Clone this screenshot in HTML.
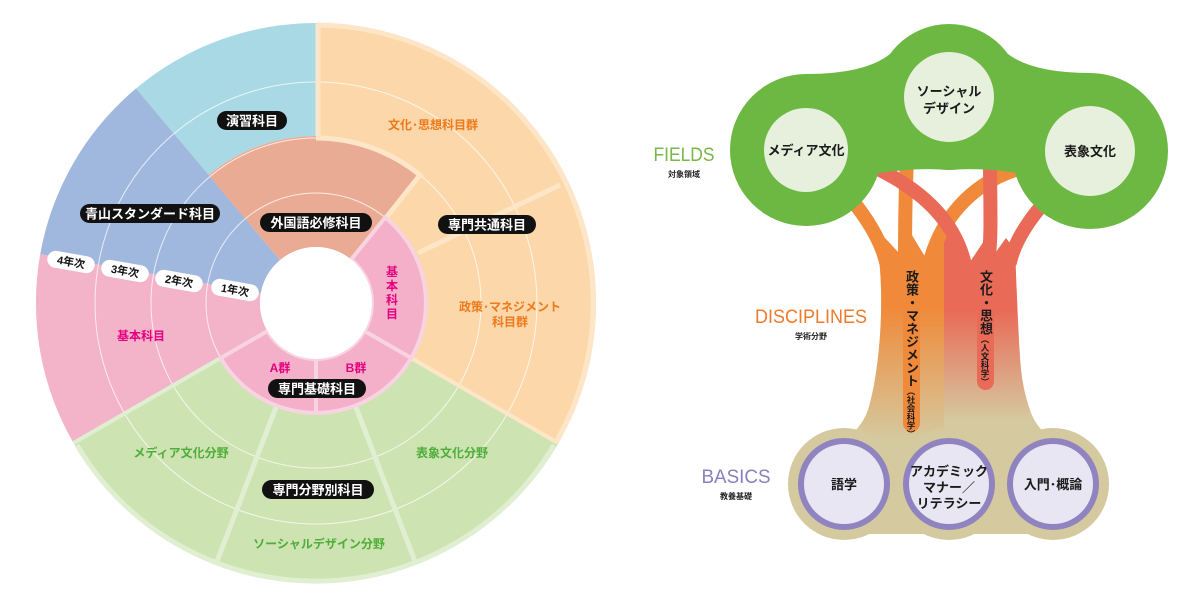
<!DOCTYPE html>
<html><head><meta charset="utf-8"><style>
html,body{margin:0;padding:0;background:#fff;}
body{width:1200px;height:595px;position:relative;overflow:hidden;font-family:"Liberation Sans","Noto Sans CJK JP",sans-serif;}
svg text{font-family:"Liberation Sans","Noto Sans CJK JP",sans-serif;}
.v{position:absolute;writing-mode:vertical-rl;text-orientation:upright;font-weight:bold;color:#1a1a1a;font-size:13px;line-height:16px;letter-spacing:0px;}
.v small{font-size:8.5px;}
</style></head><body>
<svg width="1200" height="595" viewBox="0 0 1200 595" xmlns="http://www.w3.org/2000/svg" style="position:absolute;left:0;top:0">
<defs>
<linearGradient id="go" gradientUnits="userSpaceOnUse" x1="0" y1="220" x2="0" y2="440">
<stop offset="0" stop-color="#f08a3a"/><stop offset="0.4" stop-color="#f08a3a"/><stop offset="1" stop-color="#f08a3a" stop-opacity="0"/></linearGradient>
<linearGradient id="gr" gradientUnits="userSpaceOnUse" x1="0" y1="220" x2="0" y2="420">
<stop offset="0" stop-color="#e96a57"/><stop offset="0.45" stop-color="#e96a57"/><stop offset="1" stop-color="#e96a57" stop-opacity="0"/></linearGradient>
<clipPath id="trunk"><path id="tp" d="M878,250 L885,238 L898,252 L910,232 L927,260 L948,234 L970,262 L990,232 L996,252 L1006,238 L1015,250 C1020,370 1020,380 1030,410 C1040,440 1070,450 1106,470 L1100,485 L800,485 L792,465 C820,450 855,445 868,410 C880,370 885,300 878,250 Z"/></clipPath>
</defs>

<g transform="translate(-1,-3)">
<path d="M137,91.5 A280 280 0 0 1 317,26 L317,139 A167 167 0 0 0 209.6,178.1 Z" fill="#a8d9e4"/>
<path d="M41.2,257.3 A280 280 0 0 1 137,91.5 L281,263.1 A56 56 0 0 0 261.8,296.3 Z" fill="#a0b7de"/>
<path d="M74.5,446 A280 280 0 0 1 41.2,257.3 L261.8,296.3 A56 56 0 0 0 268.5,334 Z" fill="#f3b3c9"/>
<path d="M559.5,446 A280 280 0 0 1 74.5,446 L221.7,361 A110 110 0 0 0 412.3,361 Z" fill="#cde3b1"/>
<path d="M317,26 A280 280 0 0 1 559.5,446 L412.3,361 A110 110 0 0 0 386.2,220.5 L422,176.2 A167 167 0 0 0 317,139 Z" fill="#fbd7a9"/>
<path d="M209.6,178.1 A167 167 0 0 1 422,176.2 L352.2,262.5 A56 56 0 0 0 281,263.1 Z" fill="#eaab95"/>
<circle cx="317" cy="306" r="165" fill="none" stroke="#fff" stroke-opacity="0.75" stroke-width="1"/>
<circle cx="317" cy="306" r="221" fill="none" stroke="#fff" stroke-opacity="0.75" stroke-width="1"/>
<circle cx="317" cy="306" r="110" fill="none" stroke="#fff" stroke-opacity="0.75" stroke-width="1"/>
<path d="M317,28 A278 278 0 0 1 557,445" fill="none" stroke="#fde6c8" stroke-width="5"/>
<line x1="319" y1="26" x2="319" y2="139" stroke="#fde6c8" stroke-width="5"/>
<path d="M317,141 A165 165 0 0 1 421,178 L386,222" fill="none" stroke="#fde6c8" stroke-width="5"/>
<line x1="419" y1="256" x2="561" y2="188" stroke="#fde6c8" stroke-width="5"/>
<line x1="412" y1="361" x2="559" y2="446" stroke="#fde6c8" stroke-width="4"/>
<path d="M555,448 A277 277 0 0 1 78,448" fill="none" stroke="#e0eed2" stroke-width="5"/>
<line x1="74.5" y1="446" x2="221.7" y2="361" stroke="#e0eed2" stroke-width="4"/>
<line x1="356.4" y1="408.7" x2="417.2" y2="567.5" stroke="#e0eed2" stroke-width="5"/>
<line x1="277.6" y1="408.7" x2="216.8" y2="567.5" stroke="#e0eed2" stroke-width="5"/>
<path d="M386.2,220.5 A110 110 0 1 1 221.7,361 L268.5,334 A56 56 0 1 0 352.2,262.5 Z" fill="#f3b0c8" stroke="#f8d3e1" stroke-width="4"/>
<line x1="365.5" y1="334" x2="412.3" y2="361" stroke="#f8d3e1" stroke-width="4"/>
<line x1="317" y1="362" x2="317" y2="416" stroke="#f8d3e1" stroke-width="4"/>
<circle cx="317" cy="306" r="56" fill="#fff"/>
</g>

<g font-weight="bold" font-size="13" text-anchor="middle">
<rect x="217" y="111" width="70" height="19" rx="9.5" fill="#111"/><text x="252" y="125.5" fill="#fff">演習科目</text>
<rect x="80" y="204" width="140" height="19" rx="9.5" fill="#111"/><text x="150" y="218.5" fill="#fff">青山スタンダード科目</text>
<rect x="260" y="213" width="112" height="19" rx="9.5" fill="#111"/><text x="316" y="227.5" fill="#fff">外国語必修科目</text>
<rect x="438" y="215" width="98" height="19" rx="9.5" fill="#111"/><text x="487" y="229.5" fill="#fff">専門共通科目</text>
<rect x="268" y="379" width="98" height="19" rx="9.5" fill="#111"/><text x="317" y="393.5" fill="#fff">専門基礎科目</text>
<rect x="262" y="480" width="112" height="19" rx="9.5" fill="#111"/><text x="318" y="494.5" fill="#fff">専門分野別科目</text>
</g>
<g font-weight="bold" font-size="11" text-anchor="middle" fill="#111">
<g transform="translate(71,262) rotate(10)"><rect x="-24" y="-8.5" width="48" height="17" rx="8.5" fill="#fff"/><text y="4">4年次</text></g>
<g transform="translate(125,271) rotate(10)"><rect x="-24" y="-8.5" width="48" height="17" rx="8.5" fill="#fff"/><text y="4">3年次</text></g>
<g transform="translate(179,281) rotate(10)"><rect x="-24" y="-8.5" width="48" height="17" rx="8.5" fill="#fff"/><text y="4">2年次</text></g>
<g transform="translate(235,290) rotate(10)"><rect x="-24" y="-8.5" width="48" height="17" rx="8.5" fill="#fff"/><text y="4">1年次</text></g>
</g>
<g font-weight="bold" font-size="12" text-anchor="middle">
<text x="433" y="129" fill="#ee7a1d">文化･思想科目群</text>
<text x="510" y="311" fill="#ee7a1d">政策･マネジメント</text>
<text x="510" y="326" fill="#ee7a1d">科目群</text>
<text x="141" y="340" fill="#e4007f">基本科目</text>
<text x="280" y="372" fill="#e4007f">A群</text>
<text x="356" y="372" fill="#e4007f">B群</text>
<text x="181" y="457" fill="#4fae3a">メディア文化分野</text>
<text x="452" y="457" fill="#4fae3a">表象文化分野</text>
<text x="319" y="548" fill="#4fae3a">ソーシャルデザイン分野</text>
<text x="392" y="276" fill="#e4007f">基</text>
<text x="392" y="290" fill="#e4007f">本</text>
<text x="392" y="304" fill="#e4007f">科</text>
<text x="392" y="318" fill="#e4007f">目</text>
</g>

<!-- TREE -->
<use href="#tp" fill="#d5c99f"/>
<g clip-path="url(#trunk)">
<rect x="860" y="220" width="84" height="240" fill="url(#go)"/>
<rect x="944" y="220" width="90" height="220" fill="url(#gr)"/>
</g>
<g fill="none" stroke-linecap="round" stroke-width="14">
<path d="M852,200 C872,225 882,245 886,262" stroke="#f08a3a"/>
<path d="M907,160 C905,200 905,240 905,262" stroke="#f08a3a"/>
<path d="M1015,170 C970,185 940,220 929,265" stroke="#f08a3a"/>
<path d="M880,170 C920,190 955,220 965,265" stroke="#e96a57"/>
<path d="M990,160 C990,200 992,240 988,262" stroke="#e96a57"/>
<path d="M1043,204 C1025,225 1014,245 1010,262" stroke="#e96a57"/>
</g>
<g fill="#6cb843">
<circle cx="806" cy="150" r="76"/>
<circle cx="949" cy="97" r="73"/>
<circle cx="1090" cy="151" r="78"/>
<path d="M806,74 Q865,74 890,54 L1008,54 Q1033,73 1090,73 L1090,190 Q1010,165 949,170 Q890,165 806,190 Z"/>
</g>
<g fill="#e6f0dc">
<circle cx="806" cy="150" r="42"/>
<circle cx="949" cy="97" r="45"/>
<circle cx="1090" cy="151" r="45"/>
</g>
<g font-weight="bold" font-size="13" text-anchor="middle" fill="#1a1a1a">
<text x="806" y="155">メディア文化</text>
<text x="949" y="96">ソーシャル</text>
<text x="949" y="113">デザイン</text>
<text x="1090" y="156">表象文化</text>
</g>
<g fill="#d5c99f">
<circle cx="844" cy="484" r="56"/><circle cx="949" cy="484" r="56"/><circle cx="1053" cy="484" r="56"/>
<rect x="844" y="440" width="209" height="94"/>
</g>
<g fill="#e8e6f3" stroke="#8f83c0" stroke-width="6">
<circle cx="844" cy="484" r="43"/><circle cx="949" cy="484" r="43"/><circle cx="1053" cy="484" r="43"/>
</g>
<g font-weight="bold" font-size="13" text-anchor="middle" fill="#1a1a1a">
<text x="844" y="489">語学</text>
<text x="949" y="476">アカデミック</text>
<text x="949" y="492">マナー／</text>
<text x="949" y="508">リテラシー</text>
<text x="1053" y="489">入門･概論</text>
</g>
<rect x="903" y="264" width="17" height="168" rx="8.5" fill="#f08a3a"/>
<rect x="977" y="264" width="17" height="126" rx="8.5" fill="#e96a57"/>
<g text-anchor="middle">
<text x="684" y="161" font-size="19" fill="#7ab648" textLength="61" lengthAdjust="spacingAndGlyphs">FIELDS</text>
<text x="684" y="177" font-size="8" font-weight="bold" fill="#222">対象領域</text>
<text x="811" y="323" font-size="19" fill="#ee7a2a" textLength="112" lengthAdjust="spacingAndGlyphs">DISCIPLINES</text>
<text x="811" y="339" font-size="8" font-weight="bold" fill="#222">学術分野</text>
<text x="736" y="483" font-size="19" fill="#8a7fbe" textLength="69" lengthAdjust="spacingAndGlyphs">BASICS</text>
<text x="736" y="499" font-size="8" font-weight="bold" fill="#222">教養基礎</text>
</g>
</svg>
<div class="v" style="left:903px;top:270px;width:17px;line-height:17px;">政策・マネジメント<small>（社会科学）</small></div>
<div class="v" style="left:977px;top:270px;width:17px;line-height:17px;">文化・思想<small>（人文科学）</small></div>
</body></html>
